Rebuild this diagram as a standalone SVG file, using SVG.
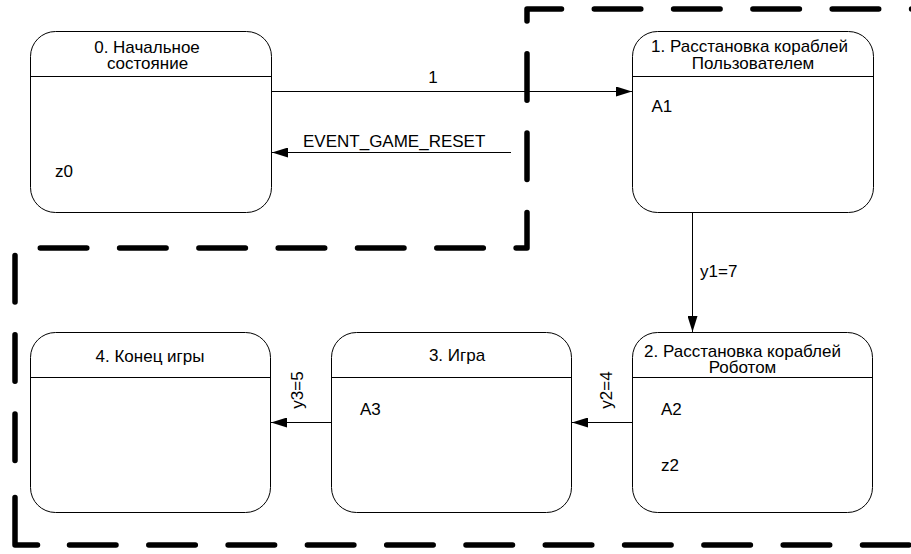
<svg xmlns="http://www.w3.org/2000/svg" width="911" height="554" viewBox="0 0 911 554">
<style>
.box{fill:#fff;stroke:#000;stroke-width:1}
.sep{stroke:#000;stroke-width:1}
.t{font-family:"Liberation Sans",Arial,sans-serif;font-size:17px;fill:#000}
.c{text-anchor:middle}
.edge{stroke:#000;stroke-width:1;fill:none;marker-end:url(#arr)}
.bnd{fill:none;stroke:#000;stroke-width:5.5;stroke-linecap:round;stroke-linejoin:round}
</style>
<defs>
<marker id="arr" viewBox="0 0 16 10" refX="16" refY="5" markerWidth="16" markerHeight="10" markerUnits="userSpaceOnUse" orient="auto">
<path d="M0,0 L16,5 L0,10 Z" fill="#000"/>
</marker>
</defs>
<rect width="911" height="554" fill="#fff"/>
<g id="n0">
<rect class="box" x="30.5" y="31.5" width="241" height="181" rx="25" ry="25"/>
<line class="sep" x1="30.5" y1="76.5" x2="271.5" y2="76.5"/>
<text class="t c" x="147" y="53">0. Начальное</text>
<text class="t c" x="147.5" y="69">состояние</text>
<text class="t" x="55" y="177">z0</text>
</g>
<g id="n1">
<rect class="box" x="632.5" y="31.5" width="241" height="181" rx="25" ry="25"/>
<line class="sep" x1="632.5" y1="76.5" x2="873.5" y2="76.5"/>
<text class="t c" x="749.5" y="52">1. Расстановка кораблей</text>
<text class="t c" x="753" y="68.5">Пользователем</text>
<text class="t" x="651.5" y="112">A1</text>
</g>
<g id="n2">
<rect class="box" x="632.5" y="332.5" width="240" height="180" rx="25" ry="25"/>
<line class="sep" x1="632.5" y1="377.5" x2="872.5" y2="377.5"/>
<text class="t c" x="742.5" y="356.5">2. Расстановка кораблей</text>
<text class="t c" x="742.5" y="372.5">Роботом</text>
<text class="t" x="661" y="414.5">A2</text>
<text class="t" x="661" y="471">z2</text>
</g>
<g id="n3">
<rect class="box" x="331.5" y="332.5" width="240" height="180" rx="25" ry="25"/>
<line class="sep" x1="331.5" y1="377.5" x2="571.5" y2="377.5"/>
<text class="t c" x="457" y="361">3. Игра</text>
<text class="t" x="360" y="414.5">A3</text>
</g>
<g id="n4">
<rect class="box" x="30.5" y="332.5" width="240" height="180" rx="25" ry="25"/>
<line class="sep" x1="30.5" y1="377.5" x2="270.5" y2="377.5"/>
<text class="t c" x="150" y="362">4. Конец игры</text>
</g>
<g id="connectors">
<line class="edge" x1="271.5" y1="91.5" x2="632" y2="91.5"/>
<text class="t c" x="433" y="83">1</text>
<line class="edge" x1="511" y1="152.5" x2="272" y2="152.5"/>
<text class="t" x="303" y="147">EVENT_GAME_RESET</text>
<line class="edge" x1="692.5" y1="212.5" x2="692.5" y2="332"/>
<text class="t" x="700" y="277">y1=7</text>
<line class="edge" x1="632" y1="422.5" x2="572" y2="422.5"/>
<text class="t c" transform="translate(612,390) rotate(-90)">y2=4</text>
<line class="edge" x1="331" y1="422.5" x2="271" y2="422.5"/>
<text class="t c" transform="translate(303,390) rotate(-90)">y3=5</text>
</g>
<g id="boundary">
<path class="bnd" d="M914,9 H527 V248 H15 V470" stroke-dasharray="46.5 32.8" stroke-dashoffset="44"/>
<path class="bnd" d="M15,497.5 V545 H37.5"/>
<path class="bnd" d="M69.5,545 H914" stroke-dasharray="46.5 32.8"/>
</g>
</svg>
